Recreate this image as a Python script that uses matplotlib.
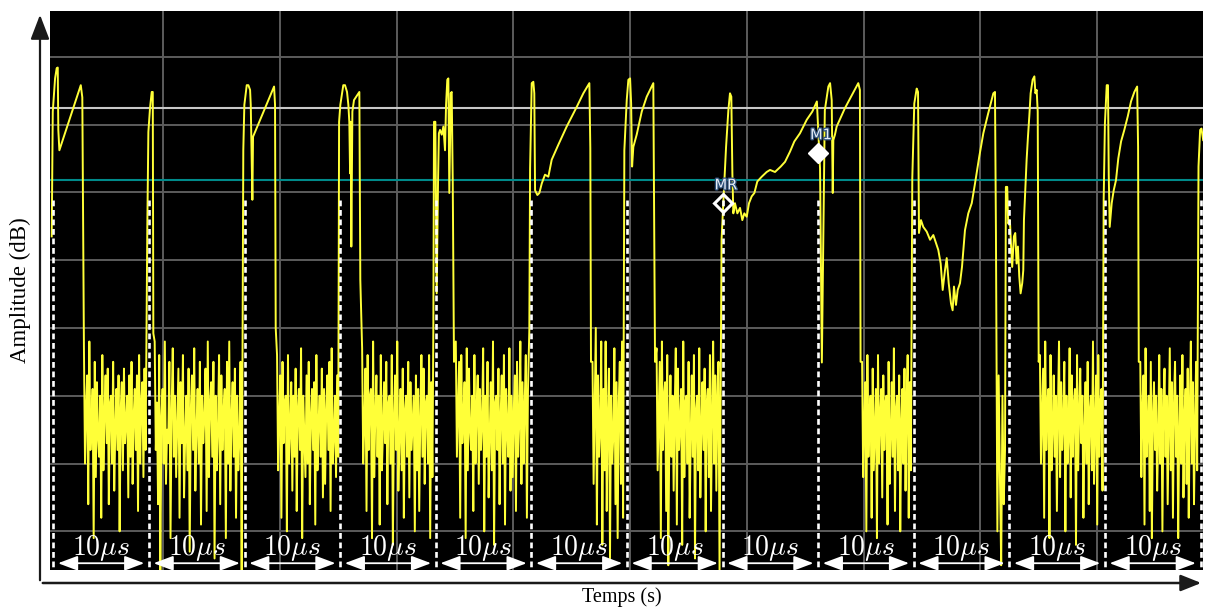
import matplotlib
matplotlib.use('Agg')
import matplotlib.pyplot as plt
import matplotlib.patheffects as pe
from matplotlib.patches import FancyArrowPatch
import numpy as np

plt.rcParams['mathtext.fontset'] = 'cm'

# time in microseconds, level in dB
pulse_t = [
    [-0.17, -0.06, 0.07, 0.18, 0.35, 0.46, 0.52, 0.63, 2.87, 3.03],
    [9.83, 9.94, 10.11, 10.29, 10.4, 10.46],
    [19.87, 19.98, 20.23, 20.4, 20.58, 20.65, 20.82, 20.89, 23.09, 23.19, 23.26],
    [29.89, 30.02, 30.33, 30.51, 30.72, 30.86, 30.96, 31.04, 31.1, 31.17, 31.28, 31.45, 32.01, 32.11],
    [39.75, 39.82, 39.96, 40.1, 40.24, 40.33, 40.45, 40.63, 40.8, 40.97, 41.08, 41.21, 41.32, 41.42,
     41.57, 41.67, 41.78, 41.91],
    [49.79, 49.87, 50.04, 50.21, 50.31, 50.39, 50.63, 50.84, 51.09, 51.43, 51.78, 52.13, 52.82, 53.7,
     54.75, 55.44, 56.07, 56.17, 56.24],
    [59.73, 59.98, 60.15, 60.33, 60.44, 60.54, 60.67, 61.02, 61.55, 62.07, 62.76, 62.94],
    [69.9, 70.08, 70.37, 70.61, 70.78, 70.92, 71.03, 71.13, 71.3, 71.55, 71.83, 72.07, 72.28, 72.53,
     72.77, 73.05, 73.33, 73.64, 74.1, 74.62, 74.97, 75.49, 76.09, 76.54, 77.06, 77.51, 78.1, 78.81,
     79.39, 79.87, 80.03, 80.2, 80.39, 80.7, 81.07, 81.25, 81.42, 81.53, 81.59, 81.76, 81.94, 82.8,
     84.2, 84.37, 84.44],
    [89.85, 90.06, 90.31, 90.45, 90.55, 90.76, 91.0, 91.36, 91.71, 92.05, 92.33, 92.57, 92.82, 93.03,
     93.27, 93.45, 93.66, 93.9, 94.07, 94.21, 94.42, 94.6, 94.84, 95.05, 95.36, 95.71, 96.07, 96.41,
     96.86, 97.28, 97.8, 98.33, 98.5, 98.6],
    [99.64, 99.78, 99.88, 100.06, 100.17, 100.3, 100.48, 100.62, 100.76, 100.9, 101.04, 101.18,
     101.35, 101.46, 101.53, 101.67, 101.81, 101.95, 102.09, 102.23, 102.44, 102.62, 102.73, 102.86,
     102.97, 103.07],
    [109.87, 110.0, 110.19, 110.32, 110.4, 110.5, 110.71, 110.92, 111.16, 111.4, 111.69, 112.03,
     112.39, 112.73, 113.08, 113.37, 113.47, 113.54],
    [119.79, 119.96, 120.1, 120.28],
]
pulse_db = [
    [-26.5, -8.1, -5.4, -3.2, -1.7, -1.6, -10.8, -13.8, -4.2, -6.0],
    [-25.1, -11.1, -7.6, -5.2, -5.2, -40.8],
    [-13.8, -7.1, -4.2, -4.2, -4.9, -7.1, -21.1, -11.8, -4.4, -7.1, -40.0],
    [-9.6, -7.1, -4.2, -4.2, -5.2, -7.1, -9.6, -17.2, -9.6, -28.0, -8.1, -6.4, -5.2, -32.9],
    [-40.0, -9.6, -9.6, -34.9, -18.6, -11.3, -10.8, -11.5, -10.3, -13.8, -7.1, -3.4, -3.2, -20.1,
     -5.4, -5.2, -18.6, -45.0],
    [-40.3, -16.5, -3.9, -3.7, -5.4, -19.7, -20.4, -20.1, -18.7, -17.4, -17.7, -15.2, -13.0, -10.3,
     -7.4, -5.4, -3.9, -13.5, -45.0],
    [-13.8, -6.4, -3.4, -3.2, -6.9, -16.2, -13.3, -11.5, -8.1, -5.9, -3.9, -45.0],
    [-27.0, -21.6, -13.3, -7.9, -5.4, -5.9, -17.2, -23.1, -21.6, -23.1, -22.3, -24.1, -23.1, -23.6,
     -21.6, -20.6, -20.1, -18.4, -17.7, -17.0, -16.7, -17.0, -16.2, -15.5, -14.0, -12.5, -11.3, -9.3,
     -8.1, -6.6, -11.3, -16.5, -45.1, -7.9, -4.4, -3.9, -6.4, -20.1, -12.3, -11.5, -10.3, -7.6,
     -3.9, -4.9, -45.0],
    [-17.9, -6.9, -4.7, -5.2, -26.0, -24.1, -25.1, -25.8, -27.0, -26.3, -27.5, -28.5, -30.5, -34.4,
     -31.5, -29.7, -33.4, -36.4, -37.4, -33.9, -36.6, -34.4, -33.4, -31.0, -25.6, -23.1, -21.6, -18.7,
     -14.7, -11.3, -8.3, -5.4, -5.2, -26.0],
    [-19.2, -19.2, -24.6, -24.1, -27.5, -31.0, -26.5, -26.0, -30.5, -28.0, -32.4, -34.9, -33.4,
     -31.5, -24.1, -19.7, -15.2, -11.8, -8.8, -5.4, -3.4, -2.9, -5.4, -4.9, -8.1, -45.0],
    [-21.1, -9.8, -4.2, -4.2, -17.4, -25.1, -21.6, -19.7, -18.2, -15.0, -12.5, -10.8, -8.8, -6.6,
     -5.2, -4.4, -13.3, -45.0],
    [-16.2, -10.8, -10.6, -12.3],
]

# noise floor bursts between the pulses: (start, end) in us, sampled levels in dB
noise_span = [(3.2, 9.65), (10.6, 19.7), (23.4, 29.8), (32.3, 39.65), (42.1, 49.65), (56.4, 59.6),
              (63.1, 69.8), (84.6, 89.7), (98.75, 99.55), (103.2, 109.75), (113.7, 119.65)]
noise_db = [
    [-43, -60, -52, -47, -66, -42, -58, -54, -49, -71, -45, -62, -48, -56, -59, -50, -68, -44, -61, -53,
     -47, -57, -46, -66, -51, -50, -60, -45, -64, -55, -49, -58, -47, -70, -52, -48, -61, -46, -57, -54,
     -50, -65, -47, -59, -45, -63, -53, -49, -58, -47, -67, -44, -60, -51, -48, -62, -46, -58],
    [-42, -58, -51, -66, -44, -76, -53, -49, -60, -42, -63, -55, -57, -45, -71, -52, -43, -59, -50, -62,
     -54, -46, -68, -48, -57, -44, -65, -56, -50, -61, -46, -73, -52, -47, -58, -43, -64, -55, -49, -60,
     -45, -69, -50, -57, -53, -46, -67, -42, -62, -51, -48, -59, -45, -74, -50, -61, -55, -44, -66, -47,
     -58, -52, -49, -71, -45, -60, -42, -64, -53, -48, -59, -46, -68, -50, -61, -56, -45, -76],
    [-44, -61, -53, -47, -68, -45, -57, -51, -50, -70, -44, -60, -55, -48, -64, -50, -59, -46, -67, -52,
     -49, -58, -43, -71, -50, -56, -62, -47, -60, -45, -66, -53, -49, -58, -48, -69, -44, -61, -54, -50,
     -59, -46, -65, -49, -63, -52, -47, -58, -45, -67, -43, -60, -56, -50, -62, -47, -59],
    [-43, -60, -54, -46, -67, -44, -58, -50, -49, -71, -42, -62, -53, -47, -59, -50, -69, -44, -61, -55,
     -48, -57, -45, -66, -51, -50, -60, -44, -72, -53, -47, -58, -42, -64, -56, -49, -61, -46, -68, -52,
     -50, -59, -45, -65, -48, -58, -54, -50, -70, -47, -61, -49, -67, -53, -44, -59, -46, -63, -51, -50,
     -60, -44, -71, -48, -62],
    [-42, -59, -52, -45, -68, -44, -57, -53, -48, -71, -43, -61, -46, -55, -58, -50, -67, -44, -60, -52,
     -47, -63, -49, -58, -54, -43, -70, -50, -59, -45, -65, -56, -48, -61, -42, -72, -51, -50, -58, -46,
     -66, -53, -47, -60, -44, -69, -49, -55, -59, -43, -64, -50, -62, -52, -47, -67, -45, -59, -54, -42,
     -63, -48, -60, -51, -44, -68, -49],
    [-45, -63, -52, -40, -69, -47, -59, -55, -42, -72, -49, -61, -42, -67, -53, -46, -74, -50, -60, -56,
     -43, -66, -48, -71, -51, -45, -63, -42, -68],
    [-43, -61, -53, -45, -71, -42, -58, -50, -48, -67, -44, -75, -55, -47, -59, -50, -64, -52, -43, -69,
     -46, -58, -54, -49, -72, -42, -62, -51, -50, -60, -45, -68, -56, -47, -59, -44, -74, -52, -50, -61,
     -43, -65, -55, -48, -58, -46, -70, -51, -49, -62, -44, -67, -53, -42, -60, -47, -64, -50, -45, -76,
     -49],
    [-45, -62, -54, -48, -70, -44, -59, -52, -50, -68, -46, -61, -55, -49, -71, -44, -60, -53, -49, -65,
     -47, -58, -51, -50, -69, -45, -63, -56, -48, -59, -43, -67, -52, -50, -61, -47, -70, -54, -49, -60,
     -46, -64, -51, -44, -68, -48, -61],
    [-70, -47, -62, -75, -50, -66, -58],
    [-44, -60, -53, -46, -68, -42, -58, -51, -49, -71, -44, -61, -55, -47, -59, -50, -67, -52, -42, -62,
     -48, -58, -54, -45, -70, -50, -60, -56, -43, -65, -47, -59, -51, -49, -72, -44, -61, -53, -46, -57,
     -50, -68, -55, -48, -60, -45, -66, -52, -50, -61, -42, -63, -54, -47, -69, -44, -59, -51, -49, -64],
    [-45, -62, -52, -47, -69, -43, -59, -55, -50, -67, -45, -71, -53, -48, -58, -50, -64, -56, -44, -60,
     -49, -70, -52, -46, -59, -50, -66, -54, -43, -61, -48, -68, -51, -45, -59, -50, -71, -55, -47, -60,
     -44, -65, -53, -49, -63, -46, -68, -52, -42, -60, -48, -66, -54, -45, -61],
]

slot_edges = [0, 10, 20, 30, 40, 50, 60, 70, 80, 90, 100, 110, 120]
slot_label = r'$10\mu s$'
ref_line_db = -7.6
threshold_db = -18.2
markers = {'MR': (70.05, -21.6), 'M1': (80.0, -14.2)}


def build_trace():
    t, db = [], []
    for i in range(len(pulse_t)):
        t += pulse_t[i]
        db += pulse_db[i]
        if i < len(noise_db):
            start, end = noise_span[i]
            t += list(np.linspace(start, end, len(noise_db[i])))
            db += noise_db[i]
    return t, db


W, H = 1205, 609
fig = plt.figure(figsize=(W / 100, H / 100), dpi=100)
ax = fig.add_axes([50 / W, 39 / H, 1153 / W, 559 / H])
ax.set_facecolor('black')
ax.set_xlim(-0.35, 120.26)
ax.set_ylim(-75.7, 6.74)
for s in ax.spines.values():
    s.set_visible(False)

ax.set_xticks([11.5 + 12.21 * k for k in range(9)])
ax.set_yticks(np.arange(-70, 1, 10))
ax.tick_params(length=0, labelbottom=False, labelleft=False)
ax.grid(True, color='#5c5c5c', lw=1.4, zorder=0)
ax.set_axisbelow(True)

ax.axhline(ref_line_db, color='#c8c8c8', lw=1.5, zorder=1)
ax.axhline(threshold_db, color='#008a8a', lw=1.5, zorder=1)

t, db = build_trace()
ax.plot(t, db, color='#ffff38', lw=1.4, zorder=2)

for e in slot_edges:
    ax.plot([e, e], [-21.1, -75.7], color='white', lw=1.9, linestyle=(0, (2.2, 1.4)), zorder=3)

for a, b in zip(slot_edges[:-1], slot_edges[1:]):
    arrow = FancyArrowPatch((a + 0.2, -74.7), (b - 0.2, -74.7),
                            arrowstyle='<|-|>,head_length=0.8,head_width=0.3',
                            mutation_scale=15, color='white', lw=1.3, zorder=4)
    ax.add_patch(arrow)
    ax.text((a + b) / 2, -73.5, slot_label, color='white', fontsize=20,
            ha='center', va='baseline', zorder=4)

mx, my = markers['MR']
ax.plot(mx, my, marker='D', ms=9.5, mfc='none', mec='white', mew=2.2, zorder=5)
mx, my = markers['M1']
ax.plot(mx, my, marker='D', ms=10.5, mfc='white', mec='white', zorder=5)
for name, (mx, my) in markers.items():
    ax.text(mx + 0.3, my + 2.7, name, color='#e4ecf6', fontsize=10.5, ha='center', va='center',
            family='DejaVu Sans', zorder=5,
            path_effects=[pe.withStroke(linewidth=1.8, foreground='#2d4f78')])

# frame arrows drawn in figure coordinates
x0 = 40 / W
y0 = (H - 583) / H
fig.add_artist(FancyArrowPatch(
    (x0, y0), (x0, (H - 12) / H), transform=fig.transFigure,
    arrowstyle='-|>,head_length=0.6,head_width=0.23', mutation_scale=25, color='#1a1a1a', lw=1.6))
fig.add_artist(FancyArrowPatch(
    (x0, y0), (1204 / W, y0), transform=fig.transFigure,
    arrowstyle='-|>,head_length=0.5,head_width=0.2', mutation_scale=25, color='#1a1a1a', lw=1.8))

fig.text(20 / W, (H - 290) / H, 'Amplitude (dB)', rotation=90, ha='center', va='center',
         family='Liberation Serif', fontsize=16.5)
fig.text(622 / W, (H - 597) / H, 'Temps (s)', ha='center', va='center',
         family='Liberation Serif', fontsize=14.5)

fig.savefig('out.png', dpi=100, facecolor='white')
